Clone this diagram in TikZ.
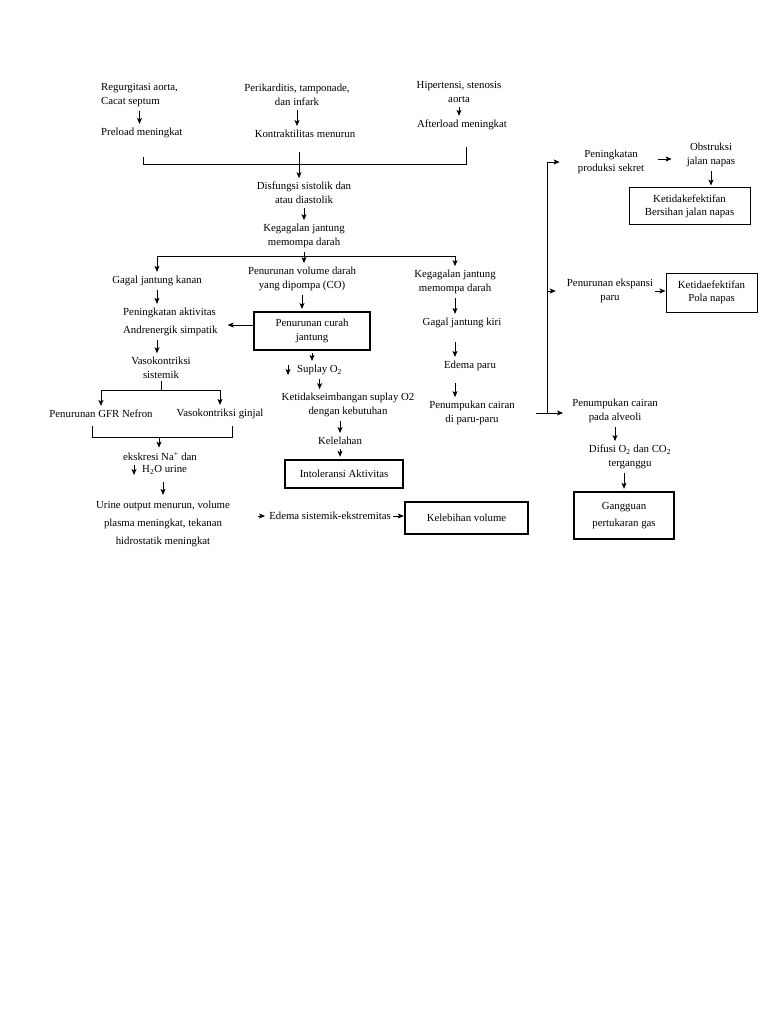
\documentclass[tikz,border=0pt]{standalone}
\usepackage{fontspec}
\setmainfont{Liberation Serif}
\usetikzlibrary{arrows.meta}

\tikzset{
  lbl/.style={inner sep=2pt, align=center},
  thickbox/.style={draw, line width=2.4pt, align=center, inner sep=3pt},
  thinbox/.style={draw, line width=1pt, align=center, inner sep=3pt},
  arr/.style={-{Stealth[length=6pt,width=5pt,inset=1.5pt]}, line width=0.8pt, shorten <=2pt, shorten >=2pt},
  ln/.style={line width=0.8pt}
}

\begin{document}
\begin{tikzpicture}[x=1pt,y=-1pt,font=\fontsize{10.8pt}{13.5pt}\selectfont]
\useasboundingbox (0,0) rectangle (768,1024);

% penyebab
\node[lbl,anchor=west,align=left] (regurg) at (99,95) {Regurgitasi aorta,\\Cacat septum};
\node[lbl,anchor=west] (preload) at (99,133) {Preload meningkat};
\node[lbl] (perik) at (297,95) {Perikarditis, tamponade,\\dan infark};
\node[lbl] (kontra) at (305,134) {Kontraktilitas menurun};
\node[lbl] (hiper) at (459,92) {Hipertensi, stenosis\\aorta};
\node[lbl] (after) at (462,125) {Afterload meningkat};

\draw[arr] (regurg.south) -- (regurg.south |- preload.north);
\draw[arr] (perik.south) -- (perik.south |- kontra.north);
\draw[arr] (hiper.south) -- (hiper.south |- after.north);

\coordinate (jL) at (143,157);
\coordinate (jR) at (466,147);
\coordinate (jM) at (299,152);
\draw[ln] (jL) -- ++(0,7) -| (jR);

\node[lbl] (disf) at (304,193) {Disfungsi sistolik dan\\atau diastolik};
\node[lbl] (keg1) at (304,236) {Kegagalan jantung\\memompa darah};
\draw[arr,shorten <=0pt] (jM) -- (jM |- disf.north);
\draw[arr] (disf.south) -- (disf.south |- keg1.north);

% cabang
\node[lbl] (gjk) at (157,281) {Gagal jantung kanan};
\node[lbl] (pvd) at (302,279) {Penurunan volume darah\\yang dipompa (CO)};
\node[lbl] (keg2) at (455,282) {Kegagalan jantung\\memompa darah};

\coordinate (sp) at (300,256);
\draw[arr] (keg1.south) -- (keg1.south |- pvd.north);
\draw[ln] (gjk.north |- sp) -- (keg2.north |- sp);
\draw[arr,shorten <=0pt] (gjk.north |- sp) -- (gjk.north);
\draw[arr,shorten <=0pt] (keg2.north |- sp) -- (keg2.north);

% kiri
\node[lbl,anchor=west,align=left] (pak) at (121,322) {Peningkatan aktivitas\\[4.5pt]Andrenergik simpatik};
\node[lbl] (vaso) at (161,368) {Vasokontriksi\\sistemik};
\draw[arr] (gjk.south) -- (gjk.south |- pak.north);
\draw[arr] (gjk.south |- pak.south) -- (gjk.south |- vaso.north);

\node[lbl] (gfr) at (101,414) {Penurunan GFR Nefron};
\node[lbl] (vgin) at (220,414) {Vasokontriksi ginjal};
\coordinate (vs) at (160,390);
\draw[ln] (vaso.south) -- (vaso.south |- vs);
\draw[ln] (gfr.north |- vs) -- (vgin.north |- vs);
\draw[arr,shorten <=0pt] (gfr.north |- vs) -- (gfr.north);
\draw[arr,shorten <=0pt] (vgin.north |- vs) -- (vgin.north);

\coordinate (gL) at (92,426);
\coordinate (gR) at (232,426);
\coordinate (gM) at (159,437);
\draw[ln] (gL) -- ++(0,11) -| (gR);

\node[lbl] (eks) at (160,456) {ekskresi Na\textsuperscript{+} dan};
\node[lbl,anchor=west] (h2o) at (140,470) {H\textsubscript{2}O urine};
\draw[arr,shorten <=0pt] (gM) -- (gM |- eks.north);
\draw[arr,shorten <=0pt,shorten >=0pt] ([xshift=-6pt,yshift=5pt]h2o.west) -- ([xshift=-6pt,yshift=-5pt]h2o.west);

\node[lbl] (urine) at (163,524) {Urine output menurun, volume\\[4.5pt]plasma meningkat, tekanan\\[4.5pt]hidrostatik meningkat};
\draw[arr,shorten <=5pt,shorten >=4pt] (h2o.south -| urine.north) -- (urine.north);

\node[lbl] (edema) at (330,516) {Edema sistemik-ekstremitas};
\node[thickbox,minimum width=123,minimum height=32] (keleb) at (466.5,518) {Kelebihan volume};
\draw[arr,shorten <=26pt] (urine.east |- edema.west) -- (edema.west);
\draw[arr,shorten <=0pt,shorten >=0pt] (edema.east) -- (edema.east -| keleb.west);

% tengah
\node[thickbox,line width=2pt,minimum width=116,minimum height=38] (curah) at (312,331) {Penurunan curah\\jantung};
\draw[arr] (pvd.south) -- (pvd.south |- curah.north);
\draw[arr,shorten <=0pt,shorten >=8pt] ([yshift=6pt]curah.west) -- ([yshift=6pt]curah.west -| pak.east);

\node[lbl,anchor=west] (suplay) at (295,370) {Suplay O\textsubscript{2}};
\draw[arr] (curah.south) -- (curah.south |- suplay.north);
\draw[arr,shorten <=0pt,shorten >=0pt] ([xshift=-7pt,yshift=5pt]suplay.west) -- ([xshift=-7pt,yshift=-5pt]suplay.west);

\node[lbl] (ketid) at (348,405) {Ketidakseimbangan suplay O2\\dengan kebutuhan};
\node[lbl] (kelel) at (340,441) {Kelelahan};
\node[thickbox,minimum width=118,minimum height=28] (intol) at (344,474) {Intoleransi Aktivitas};
\draw[arr] (suplay.south) -- (suplay.south |- ketid.north);
\draw[arr] (ketid.south -| kelel.north) -- (kelel.north);
\draw[arr] (kelel.south) -- (kelel.south |- intol.north);

% kanan
\node[lbl] (gjkiri) at (462,323) {Gagal jantung kiri};
\node[lbl] (edparu) at (470,366) {Edema paru};
\node[lbl] (penump) at (472,413) {Penumpukan cairan\\di paru-paru};
\draw[arr] (keg2.south) -- (keg2.south |- gjkiri.north);
\draw[arr,shorten <=12pt] (keg2.south |- gjkiri.south) -- (keg2.south |- edparu.north);
\draw[arr,shorten <=10pt] (keg2.south |- edparu.south) -- (keg2.south |- penump.north);

% paru
\node[lbl] (sekret) at (611,162) {Peningkatan\\produksi sekret};
\node[lbl] (obstr) at (711,155) {Obstruksi\\jalan napas};
\node[thinbox,minimum width=121,minimum height=37] (bersih) at (689.5,206.5) {Ketidakefektifan\\Bersihan jalan napas};
\node[lbl] (ekspansi) at (610,291) {Penurunan ekspansi\\paru};
\node[thinbox,minimum width=91,minimum height=39] (pola) at (711.5,292.5) {Ketidaefektifan\\Pola napas};
\node[lbl] (alveoli) at (615,411) {Penumpukan cairan\\pada alveoli};
\node[lbl] (difusi) at (630,457) {Difusi O\textsubscript{2} dan CO\textsubscript{2}\\terganggu};
\node[thickbox,minimum width=100,minimum height=47] (gangg) at (624,515.5) {Gangguan\\[3.5pt]pertukaran gas};

\coordinate (pj) at (547,413);
\draw[arr,shorten <=19pt,shorten >=7pt] (penump.east) -- (penump.east -| alveoli.west);
\draw[ln] (pj) -- (pj |- sekret.west);
\draw[arr,shorten <=0pt,shorten >=16pt] (pj |- sekret.west) -- (sekret.west);
\draw[arr,shorten <=0pt,shorten >=9pt] (pj |- ekspansi.west) -- (ekspansi.west);

\draw[arr,shorten <=12pt,shorten >=13pt] ([yshift=3pt]sekret.east) -- ([yshift=3pt]sekret.east -| obstr.west);
\draw[arr] (obstr.south) -- (obstr.south |- bersih.north);
\draw[arr,shorten <=0pt,shorten >=0pt] (ekspansi.east) -- (ekspansi.east -| pola.west);
\draw[arr] (alveoli.south) -- (alveoli.south |- difusi.north);
\draw[arr] (gangg.north |- difusi.south) -- (gangg.north);

\end{tikzpicture}
\end{document}
